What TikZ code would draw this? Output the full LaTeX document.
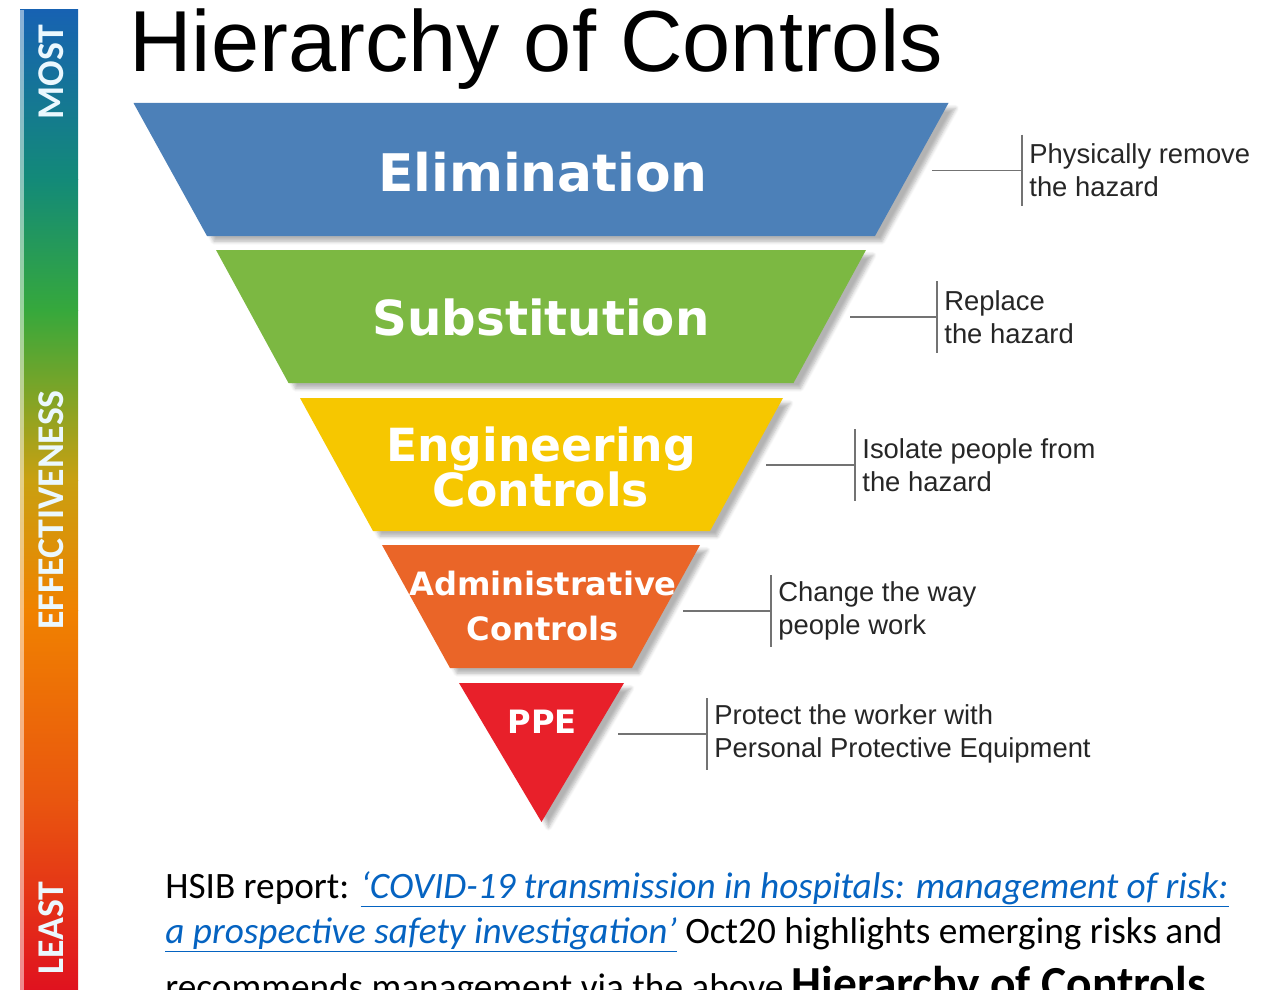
\documentclass[tikz,border=0pt]{standalone}
\usepackage{fontspec}
\setmainfont{Liberation Sans}
\newfontfamily\levelfont{DejaVu Sans}
\newfontfamily\calfont{Carlito}
\usetikzlibrary{positioning,shadows.blur}
\definecolor{ElimBlue}{HTML}{4C80B8}
\definecolor{SubGreen}{HTML}{7CB842}
\definecolor{EngGold}{HTML}{F6C700}
\definecolor{AdmOrange}{HTML}{EA6528}
\definecolor{PpeRed}{HTML}{E8202A}
\definecolor{LinkBlue}{HTML}{0563C1}
\definecolor{BarA}{HTML}{1762B2}
\definecolor{BarB}{HTML}{138A78}
\definecolor{BarC}{HTML}{36A83C}
\definecolor{BarD}{HTML}{C9A011}
\definecolor{BarE}{HTML}{F08200}
\definecolor{BarF}{HTML}{E9560F}
\definecolor{BarG}{HTML}{E0121F}

\begin{document}
\begin{tikzpicture}[x=0.02cm,y=-0.02cm,
band/.style={blur shadow={shadow xshift=4pt,shadow yshift=-3pt,shadow blur steps=6,shadow opacity=30}},
level/.style={text=white,align=center,inner sep=0pt,font=\levelfont\bfseries\fontsize{29.5}{26}\selectfont},
smalllevel/.style={level,font=\levelfont\bfseries\fontsize{18.3}{25.5}\selectfont},
note/.style={anchor=west,align=left,inner xsep=4pt,inner ysep=0pt,minimum height=1.42cm,text=black!85,font=\fontsize{15.6}{18.9}\selectfont},
link/.style={draw=black!55,line width=0.9pt},
barlabel/.style={rotate=90,text=white!92!cyan,font=\calfont\bfseries\fontsize{21.5}{24}\selectfont},
body/.style={anchor=base west,inner sep=0pt,font=\calfont\fontsize{21.2}{26}\selectfont}]
\useasboundingbox (0,0) rectangle (1262,990);
\clip (0,0) rectangle (1262,990);
% effectiveness scale
\shade[top color=BarA,bottom color=BarB] (20,10) rectangle (78,180);
\shade[top color=BarB,bottom color=BarC] (20,180) rectangle (78,310);
\shade[top color=BarC,bottom color=BarD] (20,310) rectangle (78,480);
\shade[top color=BarD,bottom color=BarE] (20,480) rectangle (78,610);
\shade[top color=BarE,bottom color=BarF] (20,610) rectangle (78,800);
\shade[top color=BarF,bottom color=BarG] (20,800) rectangle (78,990);
\fill[white,opacity=0.5] (20,10) rectangle (24,990);
\node[barlabel] (most) at (51,72) {MOST};
\node[barlabel] (effect) at (51,510) {EFFECTIVENESS};
\node[barlabel] (least) at (51,928) {LEAST};
% title
\node[anchor=base west,inner sep=0pt,font=\fontsize{49.3}{50}\selectfont] (title) at (129,72) {Hierarchy of Controls};
% the inverted pyramid
\fill[ElimBlue,band] (133.5,103) -- (948.5,103) -- (875,236) -- (207,236) -- cycle;
\fill[SubGreen,band] (216,250) -- (866,250) -- (793.5,383) -- (288.5,383) -- cycle;
\fill[EngGold,band] (300,398) -- (783,398) -- (710,531) -- (373,531) -- cycle;
\fill[AdmOrange,band] (382,545) -- (700,545) -- (632,668) -- (450,668) -- cycle;
\fill[PpeRed,band] (459,683) -- (624,683) -- (541.5,822) -- cycle;
\node[level] (elim) at (543,172) {Elimination};
\node[level,font=\levelfont\bfseries\fontsize{27.5}{26}\selectfont] (subst) at (541,317) {Substitution};
\node[level,font=\levelfont\bfseries\fontsize{26}{25.5}\selectfont] (eng) at (541,467) {Engineering\\Controls};
\node[smalllevel] (admin) at (543,606) {Administrative\\Controls};
\node[smalllevel] (ppe) at (542,722) {PPE};
% notes on the right
\coordinate (elimR) at (932,170.5);
\coordinate (substR) at (850,317);
\coordinate (engR) at (766,465);
\coordinate (adminR) at (683,611);
\coordinate (ppeR) at (618,734);
\node[note] (elimN) at (1022,170.5) {Physically remove\\the hazard};
\node[note] (substN) at (937,317) {Replace\\the hazard};
\node[note] (engN) at (855,465) {Isolate people from\\the hazard};
\node[note] (adminN) at (771,611) {Change the way\\people work};
\node[note] (ppeN) at (707,734) {Protect the worker with\\Personal Protective Equipment};
\foreach \u/\v in {elimR/elimN,substR/substN,engR/engN,adminR/adminN,ppeR/ppeN}{
  \draw[link] (\u) -- (\v.west);
  \draw[link] (\v.north west) -- (\v.south west);
}
% report reference below
\node[body] (line1) at (165,898) {HSIB report: \textcolor{LinkBlue}{\underline{\itshape ‘COVID-19 transmission in hospitals: management of risk:}}};
\node[body] (line2) at (165,943) {\textcolor{LinkBlue}{\underline{\itshape a prospective safety investigation’}} Oct20 highlights emerging risks and};
\node[body] (line3) at (165,999) {recommends management via the above {\bfseries\fontsize{27}{28}\selectfont Hierarchy of Controls}};
\end{tikzpicture}
\end{document}
